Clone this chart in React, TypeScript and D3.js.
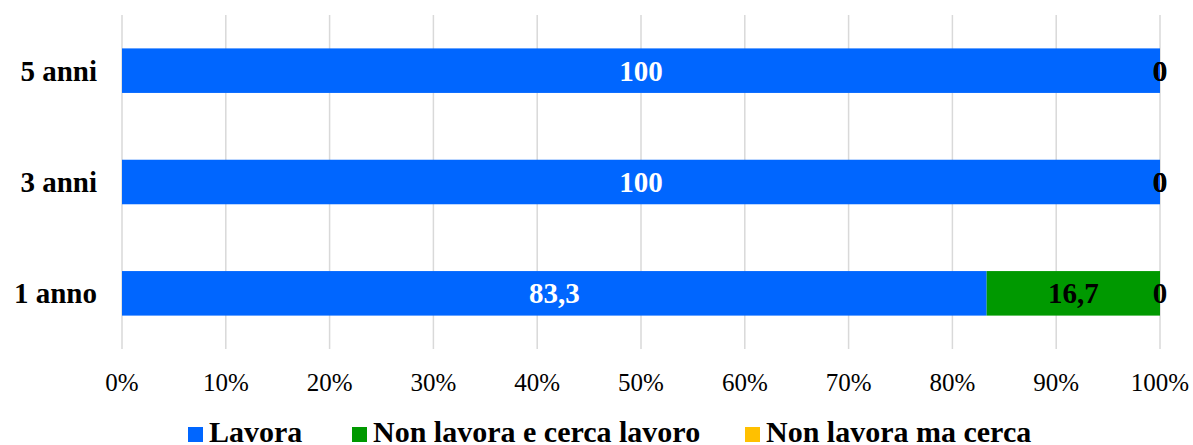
import { useEffect, useRef } from 'react'
import * as d3 from 'd3'

const categories = ['5 anni', '3 anni', '1 anno']
const seriesNames = ['Lavora', 'Non lavora e cerca lavoro', 'Non lavora ma cerca']
const lavora = [100, 100, 83.3]
const nonLavoraCerca = [0, 0, 16.7]
const nonLavoraMa = [0, 0, 0]
const xTicks = [0, 10, 20, 30, 40, 50, 60, 70, 80, 90, 100]
const colors = ['#0066ff', '#009900', '#ffc000']
const labelColors = ['#ffffff', '#000000', '#000000']

const W = 1193
const H = 445
const FONT = '"Liberation Serif", "Times New Roman", serif'

export default function App() {
  const svgRef = useRef<SVGSVGElement>(null)

  useEffect(() => {
    const svg = d3.select(svgRef.current)
    svg.selectAll('*').remove()

    const x = d3.scaleLinear().domain([0, 100]).range([122, 1160])
    const y = d3.scaleBand().domain(categories).range([15, 349]).paddingInner(0.6).paddingOuter(0.3)

    // ── Grid ───────────────────────────────────────────
    svg
      .append('g')
      .selectAll('line')
      .data(xTicks)
      .join('line')
      .attr('x1', (d) => x(d))
      .attr('x2', (d) => x(d))
      .attr('y1', 15)
      .attr('y2', 349)
      .attr('stroke', '#d9d9d9')
      .attr('stroke-width', 1.5)

    // x tick labels
    svg
      .append('g')
      .selectAll('text')
      .data(xTicks)
      .join('text')
      .attr('x', (d) => x(d))
      .attr('y', 391)
      .attr('text-anchor', 'middle')
      .attr('font-family', FONT)
      .attr('font-size', 25)
      .attr('fill', '#000')
      .text((d) => `${d}%`)

    // category labels
    svg
      .append('g')
      .selectAll('text')
      .data(categories)
      .join('text')
      .attr('x', 97)
      .attr('y', (d) => y(d)! + y.bandwidth() / 2)
      .attr('dy', '0.35em')
      .attr('text-anchor', 'end')
      .attr('font-family', FONT)
      .attr('font-weight', 'bold')
      .attr('font-size', 29)
      .attr('fill', '#000')
      .text((d) => d)

    // ── Stacked bars ───────────────────────────────────
    const rows = categories.map((c, i) => ({
      cat: c,
      [seriesNames[0]]: lavora[i],
      [seriesNames[1]]: nonLavoraCerca[i],
      [seriesNames[2]]: nonLavoraMa[i],
    }))
    const stacked = d3.stack<any>().keys(seriesNames)(rows)

    stacked.forEach((layer, si) => {
      const g = svg.append('g')
      g.selectAll('rect')
        .data(layer)
        .join('rect')
        .attr('x', (d) => x(d[0]))
        .attr('y', (d) => y(d.data.cat)!)
        .attr('width', (d) => x(d[1]) - x(d[0]))
        .attr('height', y.bandwidth())
        .attr('fill', colors[si])
    })

    stacked.forEach((layer, si) => {
      svg
        .append('g')
        .selectAll('text')
        .data(layer)
        .join('text')
        .attr('x', (d) => x((d[0] + d[1]) / 2))
        .attr('y', (d) => y(d.data.cat)! + y.bandwidth() / 2)
        .attr('dy', '0.35em')
        .attr('text-anchor', 'middle')
        .attr('font-family', FONT)
        .attr('font-weight', 'bold')
        .attr('font-size', 29)
        .attr('fill', labelColors[si])
        .text((d) => String(d[1] - d[0] === 0 ? 0 : +(d[1] - d[0]).toFixed(1)).replace('.', ','))
    })

    // ── Legend (cut by the bottom edge, as in the original) ──
    const legendX = [188, 352, 745]
    seriesNames.forEach((name, i) => {
      svg
        .append('rect')
        .attr('x', legendX[i])
        .attr('y', 427)
        .attr('width', 15)
        .attr('height', 15)
        .attr('fill', colors[i])
      svg
        .append('text')
        .attr('x', legendX[i] + 21)
        .attr('y', 442)
        .attr('font-family', FONT)
        .attr('font-weight', 'bold')
        .attr('font-size', 30)
        .attr('fill', '#000')
        .text(name)
    })
  }, [])

  return (
    <svg
      ref={svgRef}
      width={W}
      height={H}
      style={{ position: 'absolute', left: 0, top: 0, background: '#fff' }}
    />
  )
}
